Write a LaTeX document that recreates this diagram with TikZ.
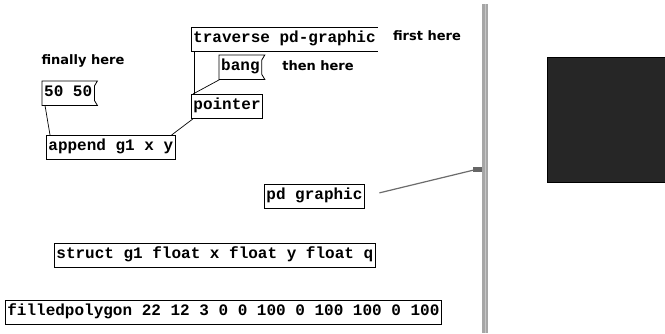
\documentclass[tikz,border=0pt]{standalone}
\usepackage{fontspec}
\newfontfamily\pdfont{Liberation Mono}
\newfontfamily\notefont{DejaVu Sans}
\usepackage{tikz}

\begin{document}
\begin{tikzpicture}[x=1pt, y=-1pt,
		obj/.style={anchor=north west, inner xsep=2pt, inner ysep=0pt, minimum height=24pt,
			text height=10pt, text depth=3pt, font=\pdfont\bfseries\fontsize{16}{16}\selectfont},
		box/.style={obj, draw, line width=0.8pt},
		note/.style={font=\notefont\bfseries\fontsize{13}{13}\selectfont},
		wire/.style={line width=0.7pt}]
		\useasboundingbox[fill=white] (0,0) rectangle (665,333);
		
		\node[obj] (trav) at (191,27) {traverse pd-graphic};
		\node[obj] (bang) at (219,55) {bang};
		\node[box] (ptr) at (191,94) {pointer};
		\node[obj] (fifty) at (42,81) {50 50};
		\node[box] (app) at (46,135) {append g1 x y};
		\node[box] (pdg) at (264,184) {pd graphic};
		\node[box] (struct) at (54,243) {struct g1 float x float y float q};
		\node[box] (poly) at (5,300) {filledpolygon 22 12 3 0 0 100 0 100 100 0 100};
		
		\node[note] (first) at (427,36) {first here};
		\node[note] (then) at (318,66) {then here};
		\node[note] (fin) at (83,61) {finally here};
		
		\draw[line width=0.8pt] (trav.north east) -- (trav.north west) -- (trav.south west) -- (trav.south east);
		\foreach \m in {bang,fifty}
			\draw[line width=0.8pt] (\m.north west) -- ([xshift=3pt]\m.north east) -- ([yshift=-5pt]\m.north east)
				-- ([yshift=5pt]\m.south east) -- ([xshift=3pt]\m.south east) -- (\m.south west) -- cycle;
		
		\draw[wire] ([xshift=3pt]trav.south west) -- ([xshift=3pt]ptr.north west);
		\draw[wire] ([xshift=1pt]bang.south west) -- ([xshift=2pt]ptr.north west);
		\draw[wire] ([xshift=2pt]ptr.south west) -- ([xshift=-4pt]app.north east);
		\draw[wire] ([xshift=3pt]fifty.south west) -- ([xshift=4pt]app.north west);
		
		\fill[gray!70] (482,4) rectangle (488,333);
		\draw[gray!45, line width=1pt] (485,4) -- (485,333);
		\fill[gray!80!black] (473,167) rectangle (482,172);
		\coordinate (hook) at (474,170);
		\draw[gray!85!black, line width=1.2pt, shorten <=15pt] (pdg.east) -- (hook);
		
		\fill[black!85, draw=black] (547,57) rectangle (666,182);
	\end{tikzpicture}
\end{document}
